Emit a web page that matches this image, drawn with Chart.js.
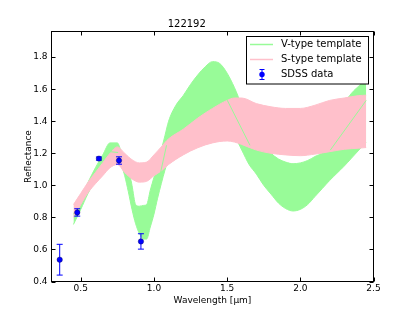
<!DOCTYPE html>
<html lang="en">
<head>
  <meta charset="UTF-8">
  <title>122192</title>
  <script src="https://cdn.jsdelivr.net/npm/chart.js"></script>
  <style>
    body { margin: 0; background: #fff; }
    #wrap { width: 415px; height: 312px; }
  </style>
</head>
<body>
  <div id="wrap"><canvas id="chart" width="415" height="312"></canvas></div>
  <script>
    // V-type template band (upper / lower edge)
    const vWave  = [0.45, 0.50, 0.55, 0.60, 0.65, 0.70, 0.75, 0.78, 0.80, 0.825, 0.85, 0.875, 0.90, 0.93, 0.95, 0.975,
                    1.00, 1.025, 1.05, 1.075, 1.10, 1.15, 1.20, 1.25, 1.30, 1.35, 1.40, 1.45, 1.50, 1.55, 1.60, 1.65,
                    1.70, 1.75, 1.80, 1.85, 1.90, 1.95, 2.00, 2.05, 2.10, 2.15, 2.20, 2.25, 2.30, 2.35, 2.40, 2.45];
    const vUpper = [0.82, 0.92, 1.02, 1.11, 1.19, 1.265, 1.265, 1.20, 1.16, 1.11, 1.00, 0.88, 0.87, 0.875, 0.88, 0.97,
                    1.05, 1.13, 1.22, 1.31, 1.40, 1.50, 1.56, 1.63, 1.69, 1.74, 1.772, 1.76, 1.70, 1.61, 1.50, 1.40,
                    1.32, 1.25, 1.20, 1.165, 1.145, 1.135, 1.14, 1.155, 1.18, 1.21, 1.31, 1.41, 1.51, 1.575, 1.62, 1.66];
    const vLower = [0.756, 0.85, 0.95, 1.03, 1.11, 1.19, 1.20, 1.12, 1.06, 0.96, 0.85, 0.76, 0.70, 0.665, 0.665, 0.74,
                    0.82, 0.92, 1.01, 1.094, 1.16, 1.22, 1.26, 1.30, 1.33, 1.36, 1.37, 1.38, 1.37, 1.31, 1.22, 1.13,
                    1.07, 1.00, 0.945, 0.89, 0.855, 0.84, 0.85, 0.88, 0.93, 0.98, 1.03, 1.075, 1.12, 1.17, 1.22, 1.27];

    // S-type template band
    const sWave  = [0.45, 0.50, 0.55, 0.60, 0.65, 0.70, 0.75, 0.80, 0.85, 0.90, 0.95, 1.00, 1.05, 1.10, 1.20, 1.30,
                    1.40, 1.50, 1.55, 1.60, 1.70, 1.80, 1.90, 2.00, 2.10, 2.20, 2.30, 2.40, 2.45];
    const sUpper = [0.88, 0.95, 1.02, 1.08, 1.14, 1.20, 1.24, 1.20, 1.16, 1.14, 1.145, 1.19, 1.24, 1.29, 1.35, 1.42,
                    1.48, 1.53, 1.545, 1.545, 1.51, 1.49, 1.48, 1.48, 1.50, 1.53, 1.545, 1.56, 1.5625];
    const sLower = [0.80, 0.88, 0.955, 1.01, 1.06, 1.11, 1.13, 1.08, 1.04, 1.02, 1.025, 1.06, 1.09, 1.13, 1.19, 1.235,
                    1.265, 1.277, 1.27, 1.255, 1.22, 1.20, 1.19, 1.185, 1.195, 1.21, 1.225, 1.232, 1.236];

    // thin green lines showing through the pink band (pairs of end points)
    const seamWave = [0.70, 0.755, 1.046, 1.086, 1.501, 1.656, 2.205, 2.45];
    const seamRefl = [1.21, 1.205, 1.083, 1.25, 1.531, 1.25, 1.22, 1.53];

    // SDSS photometry
    const sdssWave = [0.356, 0.476, 0.624, 0.761, 0.911];
    const sdssRefl = [0.536, 0.831, 1.167, 1.155, 0.650];
    const sdssErr  = [0.096, 0.023, 0.010, 0.023, 0.048];

    const xTicks = [0.5, 1.0, 1.5, 2.0, 2.5];
    const yTicks = [0.4, 0.6, 0.8, 1.0, 1.2, 1.4, 1.6, 1.8];

    const GREEN = '#98fb98';
    const PINK = '#ffc0cb';
    const BLUE = '#0000ff';

    const pts = (xs, ys) => xs.map((x, i) => ({ x: x, y: ys[i] }));

    const seamData = [];
    for (let i = 0; i < seamWave.length; i += 2) {
      if (i > 0) seamData.push({ x: seamWave[i], y: null });
      seamData.push({ x: seamWave[i], y: seamRefl[i] });
      seamData.push({ x: seamWave[i + 1], y: seamRefl[i + 1] });
    }

    Chart.defaults.font.family = "'DejaVu Sans', sans-serif";
    Chart.defaults.font.size = 9;
    Chart.defaults.color = '#000';

    const decorations = {
      id: 'decorations',
      beforeDatasetDraw(chart, args) {
        if (chart.data.datasets[args.index].label !== 'SDSS data') return;
        const { ctx, scales: { x, y } } = chart;
        ctx.save();
        ctx.strokeStyle = BLUE;
        ctx.lineWidth = 1;
        sdssWave.forEach((w, i) => {
          const px = x.getPixelForValue(w);
          const hi = y.getPixelForValue(sdssRefl[i] + sdssErr[i]);
          const lo = y.getPixelForValue(sdssRefl[i] - sdssErr[i]);
          ctx.beginPath();
          ctx.moveTo(px, hi); ctx.lineTo(px, lo);
          ctx.moveTo(px - 3, hi); ctx.lineTo(px + 3, hi);
          ctx.moveTo(px - 3, lo); ctx.lineTo(px + 3, lo);
          ctx.stroke();
        });
        ctx.restore();
      },
      afterDraw(chart) {
        const { ctx, chartArea: a, scales: { x, y } } = chart;
        ctx.save();
        ctx.strokeStyle = '#000';
        ctx.lineWidth = 1;
        // frame
        ctx.strokeRect(a.left, a.top, a.right - a.left, a.bottom - a.top);
        // inward ticks on all four sides
        ctx.beginPath();
        xTicks.forEach(v => {
          const px = Math.round(x.getPixelForValue(v)) + 0.5;
          ctx.moveTo(px, a.bottom); ctx.lineTo(px, a.bottom - 4);
          ctx.moveTo(px, a.top); ctx.lineTo(px, a.top + 4);
        });
        yTicks.forEach(v => {
          const py = Math.round(y.getPixelForValue(v)) + 0.5;
          ctx.moveTo(a.left, py); ctx.lineTo(a.left + 4, py);
          ctx.moveTo(a.right, py); ctx.lineTo(a.right - 4, py);
        });
        ctx.stroke();

        // legend box
        const bx = 246.5, by = 36.5, bw = 122, bh = 47.5;
        ctx.fillStyle = '#fff';
        ctx.fillRect(bx, by, bw, bh);
        ctx.strokeRect(bx, by, bw, bh);
        const rows = [44.5, 59.5, 74.5];
        ctx.lineWidth = 1.5;
        ctx.strokeStyle = GREEN;
        ctx.beginPath(); ctx.moveTo(250, rows[0]); ctx.lineTo(273, rows[0]); ctx.stroke();
        ctx.strokeStyle = PINK;
        ctx.beginPath(); ctx.moveTo(250, rows[1]); ctx.lineTo(273, rows[1]); ctx.stroke();
        ctx.strokeStyle = BLUE;
        ctx.lineWidth = 1;
        ctx.beginPath();
        ctx.moveTo(262, rows[2] - 5); ctx.lineTo(262, rows[2] + 5);
        ctx.moveTo(259.5, rows[2] - 5); ctx.lineTo(264.5, rows[2] - 5);
        ctx.moveTo(259.5, rows[2] + 5); ctx.lineTo(264.5, rows[2] + 5);
        ctx.stroke();
        ctx.fillStyle = BLUE;
        ctx.beginPath(); ctx.arc(262, rows[2], 2.7, 0, Math.PI * 2); ctx.fill();
        ctx.fillStyle = '#000';
        ctx.font = "10px 'DejaVu Sans'";
        ctx.textBaseline = 'middle';
        ctx.textAlign = 'left';
        ['V-type template', 'S-type template', 'SDSS data'].forEach((t, i) => ctx.fillText(t, 281, rows[i]));
        ctx.restore();
      }
    };

    new Chart(document.getElementById('chart'), {
      type: 'line',
      data: {
        datasets: [
          {
            label: 'SDSS data',
            data: pts(sdssWave, sdssRefl),
            showLine: false,
            pointRadius: 2.7,
            pointBackgroundColor: BLUE,
            pointBorderColor: 'rgba(0,0,60,0.7)',
            pointBorderWidth: 0.5,
            order: 0
          },
          {
            label: 'seams',
            data: seamData,
            borderColor: GREEN,
            borderWidth: 1,
            pointRadius: 0,
            spanGaps: false,
            order: 1
          },
          {
            label: 'S-type template',
            data: pts(sWave, sUpper),
            borderColor: PINK,
            backgroundColor: PINK,
            borderWidth: 1,
            pointRadius: 0,
            cubicInterpolationMode: 'monotone',
            fill: '+1',
            order: 2
          },
          {
            label: 'S lower',
            data: pts(sWave, sLower),
            borderColor: PINK,
            borderWidth: 1,
            pointRadius: 0,
            cubicInterpolationMode: 'monotone',
            fill: false,
            order: 2
          },
          {
            label: 'V-type template',
            data: pts(vWave, vUpper),
            borderColor: GREEN,
            backgroundColor: GREEN,
            borderWidth: 1,
            pointRadius: 0,
            cubicInterpolationMode: 'monotone',
            fill: '+1',
            order: 3
          },
          {
            label: 'V lower',
            data: pts(vWave, vLower),
            borderColor: GREEN,
            borderWidth: 1,
            pointRadius: 0,
            cubicInterpolationMode: 'monotone',
            fill: false,
            order: 3
          }
        ]
      },
      options: {
        responsive: false,
        animation: false,
        events: [],
        layout: { padding: { left: 0, right: 41.5, top: 0, bottom: 0 } },
        scales: {
          x: {
            type: 'linear',
            min: 0.3,
            max: 2.5,
            grid: { display: false, drawTicks: false },
            border: { display: false },
            afterBuildTicks: scale => { scale.ticks = xTicks.map(v => ({ value: v })); },
            afterFit: scale => { scale.height = 30.5; },
            ticks: { padding: 1.5, maxRotation: 0, callback: v => v.toFixed(1) },
            title: { display: true, text: 'Wavelength [μm]', padding: { top: 0, bottom: 6 } }
          },
          y: {
            min: 0.4,
            max: 1.96,
            grid: { display: false, drawTicks: false },
            border: { display: false },
            afterBuildTicks: scale => { scale.ticks = yTicks.map(v => ({ value: v })); },
            afterFit: scale => { scale.width = 51.5; },
            ticks: { padding: 4, callback: v => v.toFixed(1) },
            title: { display: true, text: 'Reflectance', padding: { top: 22.9, bottom: 0 } }
          }
        },
        plugins: {
          legend: { display: false },
          tooltip: { enabled: false },
          title: {
            display: true,
            text: '122192',
            font: { size: 10, weight: 'normal' },
            padding: { top: 18, bottom: 1.5 }
          }
        }
      },
      plugins: [decorations]
    });
  </script>
</body>
</html>
